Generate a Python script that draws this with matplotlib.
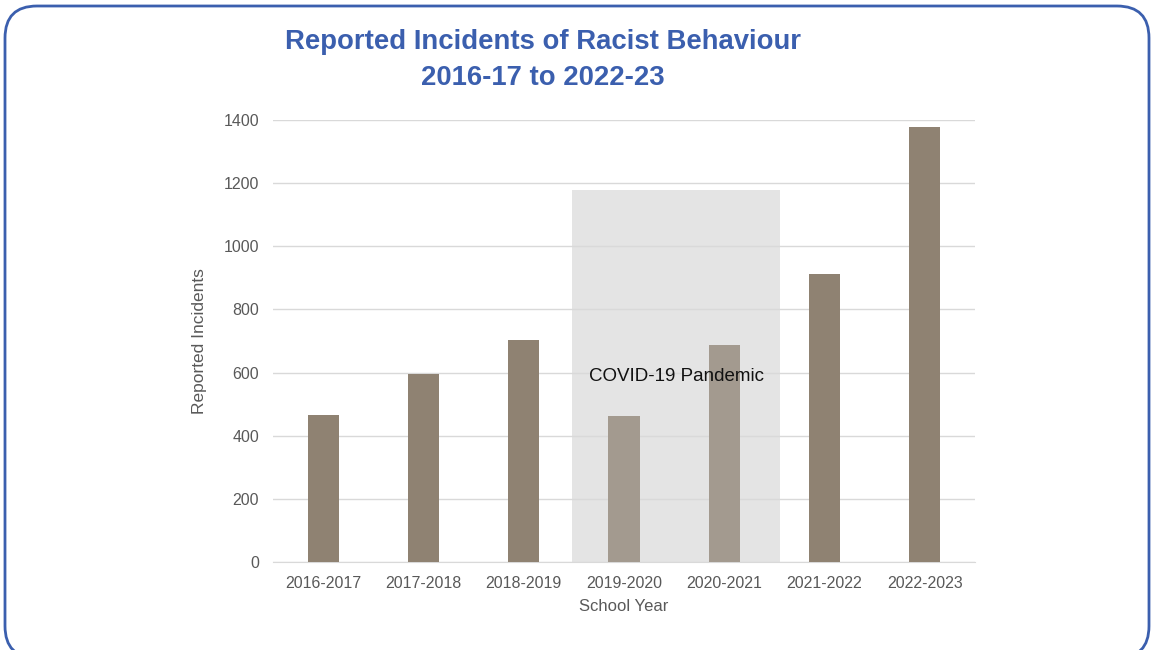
import matplotlib.pyplot as plt
from matplotlib.patches import FancyBboxPatch
from matplotlib.transforms import IdentityTransform
from matplotlib import font_manager

years = ["2016-2017", "2017-2018", "2018-2019", "2019-2020",
         "2020-2021", "2021-2022", "2022-2023"]
incidents = [465, 596, 704, 462, 688, 911, 1378]
pandemic = [False, False, False, True, True, False, False]
covid_label = "COVID-19 Pandemic"
covid_height = 1178

names = {f.name for f in font_manager.fontManager.ttflist}
narrow = "Liberation Sans Narrow" if "Liberation Sans Narrow" in names else "Liberation Sans"
plt.rcParams["font.family"] = ["Liberation Sans", "DejaVu Sans"]

fig = plt.figure(figsize=(11.53, 6.5), dpi=100)

# rounded frame around the whole chart, drawn in pixels
frame = FancyBboxPatch((5, -8), 1144, 652,
                       boxstyle="round,pad=0,rounding_size=32",
                       transform=IdentityTransform(), facecolor="none",
                       edgecolor="#3b5fae", linewidth=2)
fig.patches.append(frame)

ax = fig.add_axes([273 / 1153, 1 - 562 / 650, 702 / 1153, 442 / 650])
x = list(range(len(years)))

# shaded pandemic block behind the bars
ax.bar(3.52, covid_height, width=2.08, color="#e4e4e4", zorder=1)

colors = ["#a39a8f" if p else "#8f8272" for p in pandemic]
ax.bar(x, incidents, width=0.31, color=colors, zorder=3)

ax.text(3.52, 586, covid_label, ha="center", va="center", fontsize=13.5,
        family=[narrow, "DejaVu Sans"], color="#111111", zorder=4)

ax.set_xlim(-0.5, 6.5)
ax.set_ylim(0, 1400)
ax.set_yticks(range(0, 1401, 200))
ax.set_xticks(x)
ax.set_xticklabels(years)
ax.yaxis.grid(True, color="#d9d9d9", linewidth=1, zorder=2)
ax.set_axisbelow(False)
for s in ["top", "right", "left"]:
    ax.spines[s].set_visible(False)
ax.spines["bottom"].set_color("#d9d9d9")
ax.tick_params(length=0, labelsize=11.5, labelcolor="#595959", pad=10)
for lab in ax.get_xticklabels() + ax.get_yticklabels():
    lab.set_family([narrow, "DejaVu Sans"])

ax.set_xlabel("School Year", fontsize=12, color="#595959", family=[narrow, "DejaVu Sans"], labelpad=6)
ax.set_ylabel("Reported Incidents", fontsize=12.5, color="#595959", family=[narrow, "DejaVu Sans"], labelpad=12)

fig.text(543 / 1153, 1 - 42 / 650, "Reported Incidents of Racist Behaviour",
         ha="center", va="center", fontsize=19.8, fontweight="bold", color="#3b5fae")
fig.text(543 / 1153, 1 - 78 / 650, "2016-17 to 2022-23",
         ha="center", va="center", fontsize=19.8, fontweight="bold", color="#3b5fae")

fig.savefig("out.png", dpi=100)
